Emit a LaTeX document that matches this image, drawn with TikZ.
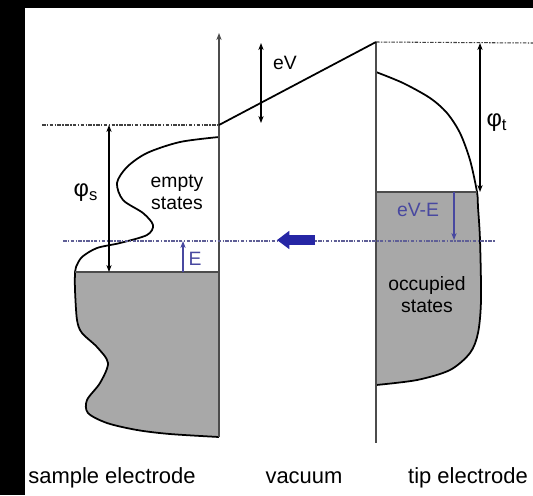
\documentclass[tikz,border=0pt]{standalone}
\usepackage{fontspec}
\setmainfont{Liberation Sans}
\usetikzlibrary{arrows.meta}
\definecolor{stmgray}{RGB}{168,168,168}
\definecolor{stmblue}{RGB}{38,38,165}
\definecolor{stmlabel}{RGB}{72,72,160}
\definecolor{stmbias}{RGB}{95,95,150}

\begin{document}
\begin{tikzpicture}[x=0.02cm, y=-0.02cm,
  level/.style={draw=black!75, line width=0.6pt, dash pattern=on 2pt off 0.8pt on 0.8pt off 0.8pt},
  bias/.style={draw=stmbias, line width=0.6pt, dash pattern=on 2pt off 0.8pt on 0.8pt off 0.8pt},
  wall/.style={draw=black!70, line width=0.7pt},
  dos/.style={draw=black, line width=1pt},
  arr/.style={-{Stealth[length=4pt,width=3pt]}, line width=0.6pt},
  darr/.style={{Stealth[length=4pt,width=3pt]}-{Stealth[length=4pt,width=3pt]}, line width=0.6pt},
  lbl/.style={font=\fontsize{11}{12.5}\selectfont, align=center, inner sep=0pt},
  wf/.style={font=\fontsize{13.5}{15}\selectfont, inner sep=0pt},
  bot/.style={font=\fontsize{12.5}{14}\selectfont, inner sep=0pt}
]
\useasboundingbox (0,0) rectangle (533,495);
\fill[black] (0,0) rectangle (533,495);
\fill[white] (25,8) rectangle (533,495);

\coordinate (sTop) at (219,33);
\coordinate (sBot) at (219,437);
\coordinate (sVac) at (219,125);
\coordinate (sVacL) at (42,125);
\coordinate (sFermi) at (219,272);
\coordinate (sFermiL) at (75,272);
\coordinate (tTop) at (376,42);
\coordinate (tBot) at (376,443);
\coordinate (tVacR) at (533,43);
\coordinate (tFermi) at (376,192);
\coordinate (tFermiR) at (477,192);
\coordinate (biasL) at (63,241);
\coordinate (biasR) at (495,241);

% sample electrode
\begin{scope}
  \clip (0,272) rectangle (219,445);
  \fill[stmgray] plot[smooth] coordinates {(219,137) (180,142) (147,153) (127,167) (117,183) (123,200) (143,213) (153,225) (147,235) (120,243) (97,248) (82,257) (76,267) (75,272) (75,290) (77,320) (82,333) (97,347) (108,363) (100,383) (87,400) (88,413) (107,423) (137,430) (170,434) (219,437)} -- cycle;
\end{scope}
\draw[dos] plot[smooth] coordinates {(219,137) (180,142) (147,153) (127,167) (117,183) (123,200) (143,213) (153,225) (147,235) (120,243) (97,248) (82,257) (76,267) (75,272) (75,290) (77,320) (82,333) (97,347) (108,363) (100,383) (87,400) (88,413) (107,423) (137,430) (170,434) (219,437)};
\draw[wall] (sFermiL) -- (sFermi);
\draw[wall, -{Stealth[length=4pt,width=3pt]}] (sBot) -- (sTop);

% tip electrode
\begin{scope}
  \clip (370,192) rectangle (490,390);
  \fill[stmgray] plot[smooth] coordinates {(376,72) (403,83) (430,98) (447,113) (460,133) (470,160) (477,192) (478,207) (480,240) (481,300) (478,333) (470,353) (450,370) (417,380) (376,385)} -- cycle;
\end{scope}
\draw[dos] plot[smooth] coordinates {(376,72) (403,83) (430,98) (447,113) (460,133) (470,160) (477,192) (478,207) (480,240) (481,300) (478,333) (470,353) (450,370) (417,380) (376,385)};
\draw[wall] (tFermi) -- (tFermiR);
\draw[wall] (tTop) -- (tBot);

% levels
\draw[level] (sVacL) -- (sVac);
\draw[level] (tTop) -- (tVacR);
\draw[bias] (biasL) -- (biasR);
\draw[dos] (sVac) -- (tTop);

% energies
\coordinate (eVa) at (261,43);
\coordinate (eVb) at (261,123);
\coordinate (phisA) at (109,125);
\coordinate (phisB) at (109,272);
\coordinate (phitA) at (480,43);
\coordinate (phitB) at (480,192);
\coordinate (Ea) at (183,272);
\coordinate (Eb) at (183,241);
\coordinate (eVEa) at (454,192);
\coordinate (eVEb) at (454,240);
\coordinate (flowA) at (315,240);
\coordinate (flowB) at (277,240);
\draw[darr, line width=0.9pt] (eVa) -- (eVb);
\draw[darr] (phisA) -- (phisB);
\draw[darr] (phitA) -- (phitB);
\draw[arr, stmlabel] (Ea) -- (Eb);
\draw[arr, stmlabel] (eVEa) -- (eVEb);
\draw[stmblue, line width=6pt, -{Triangle[length=7pt,width=10pt]}] (flowA) -- (flowB);

\node[lbl] (eV) at (285,63) {eV};
\node[wf] (phis) at (86,193) {φ\textsubscript{s}};
\node[wf] (phit) at (497,123) {φ\textsubscript{t}};
\node[lbl] (empty) at (177,192) {empty\\states};
\node[lbl, text=stmlabel] (E) at (195,259) {E};
\node[lbl, text=stmlabel] (eVE) at (418,210) {eV-E};
\node[lbl] (occ) at (427,295) {occupied\\states};
\node[bot] (sample) at (112,478) {sample electrode};
\node[bot] (vac) at (304,478) {vacuum};
\node[bot] (tip) at (468,478) {tip electrode};
\end{tikzpicture}
\end{document}
